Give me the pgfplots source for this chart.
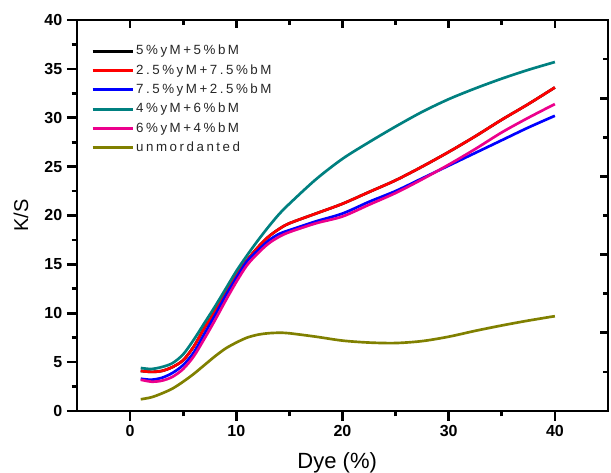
\documentclass[border=0pt]{standalone}
\usepackage{fontspec}
\setmainfont{Liberation Sans}
\newfontfamily\legfont[LetterSpace=19]{Liberation Sans}
\usepackage{pgfplots}
\pgfplotsset{compat=1.18}
\usepackage{pgfplotstable}
\definecolor{cTeal}{RGB}{0,128,128}
\definecolor{cOlive}{RGB}{128,128,0}

% x  5/5  2.5/7.5  7.5/2.5  4/6  6/4  unmordanted
\pgfplotstableread{
x    blk   red   blu   tea   mag   oli
1    4.1   4.1   3.3   4.4   3.2   1.2
2    4.0   4.0   3.2   4.3   3.0   1.4
3    4.1   4.1   3.4   4.5   3.1   1.8
4    4.5   4.5   3.9   4.9   3.5   2.3
5    5.2   5.2   4.7   5.8   4.3   3.0
6    6.6   6.6   6.0   7.3   5.6   3.8
7    8.5   8.5   7.9   9.0   7.4   4.7
8    10.2  10.2  9.8   10.7  9.3   5.6
9    12.3  12.3  11.8  12.5  11.3  6.4
10   13.9  13.9  13.6  14.3  13.2  7.0
11   15.4  15.4  15.3  15.9  14.9  7.5
12   16.7  16.7  16.4  17.4  16.1  7.8
13   17.8  17.8  17.4  18.8  17.1  7.95
14   18.6  18.6  18.1  20.1  17.8  8.0
15   19.2  19.2  18.5  21.2  18.3  7.95
17.5 20.2  20.2  19.4  23.7  19.2  7.6
20   21.2  21.2  20.2  25.8  19.9  7.2
22.5 22.4  22.4  21.4  27.5  21.1  7.0
25   23.6  23.6  22.5  29.1  22.3  6.95
27.5 25.0  25.0  23.8  30.6  23.7  7.15
30   26.5  26.5  25.1  31.9  25.2  7.6
32.5 28.1  28.1  26.4  33.0  26.8  8.2
35   29.8  29.8  27.7  34.0  28.5  8.75
37.5 31.4  31.4  29.0  34.9  30.0  9.25
40   33.1  33.1  30.2  35.7  31.4  9.7
}\ksdata

\begin{document}
\begin{tikzpicture}
% fixed page: axis box plus the margins of the reference
\useasboundingbox (-57.75pt,-46.5pt) rectangle (400.5pt,308.25pt);
\pgfplotsset{
  frame/.style={width=398.25pt,height=293.25pt,scale only axis,
    at={(0,0)},anchor=south west,
    xmin=-5,xmax=45,ymin=0,ymax=40,
    axis line style={line width=2.2pt},
    tick style={black,line width=2pt},
    major tick length=7.5pt,minor tick length=4pt},
}
% top and right: ticks pointing in
\begin{axis}[frame,
  xtick pos=right,ytick pos=right,tick align=inside,
  xtick={0,10,20,30,40},minor xtick={5,15,25,35},
  ytick={8,16,24,32},minor ytick={4,12,20,28,36},
  major tick length=6pt,minor tick length=3.5pt,
  xticklabels={},yticklabels={}]
\end{axis}
% bottom and left: ticks pointing out, labels, curves
\begin{axis}[frame,
  xtick pos=left,ytick pos=left,tick align=outside,
  xtick={0,10,20,30,40},minor xtick={5,15,25,35},
  ytick={0,5,...,40},minor ytick={2.5,7.5,...,37.5},
  /pgf/number format/assume math mode=true,
  ticklabel style={font=\fontsize{12}{14}\selectfont\bfseries},
  xlabel={Dye (\%)},ylabel={K/S},
  xlabel style={font=\fontsize{16.5}{19}\selectfont,at={(axis description cs:0.49,-0.133)},anchor=center},
  ylabel style={font=\fontsize{15}{18}\selectfont,at={(axis description cs:-0.1055,0.5)},anchor=center},
  legend style={draw=none,fill=none,at={(axis description cs:0,1)},anchor=north west,
    xshift=10.5pt,yshift=-17pt,inner sep=0pt,row sep=2pt,column sep=0pt,
    font=\legfont\color{black!85},
    nodes={inner sep=1.5pt,text height=7.5pt,text depth=2pt}},
  legend cell align=left,
  legend image code/.code={\draw[#1,line width=2.2pt] (0pt,0pt) -- (30pt,0pt);},
  every axis plot/.append style={line width=2pt,smooth}]
\addplot[black] table[x=x,y=blk]{\ksdata};
\addlegendentry{5\%yM+5\%bM}
\addplot[red] table[x=x,y=red]{\ksdata};
\addlegendentry{2.5\%yM+7.5\%bM}
\addplot[blue] table[x=x,y=blu]{\ksdata};
\addlegendentry{7.5\%yM+2.5\%bM}
\addplot[cTeal] table[x=x,y=tea]{\ksdata};
\addlegendentry{4\%yM+6\%bM}
\addplot[magenta] table[x=x,y=mag]{\ksdata};
\addlegendentry{6\%yM+4\%bM}
\addplot[cOlive] table[x=x,y=oli]{\ksdata};
\addlegendentry{unmordanted}
\end{axis}
\end{tikzpicture}
\end{document}
